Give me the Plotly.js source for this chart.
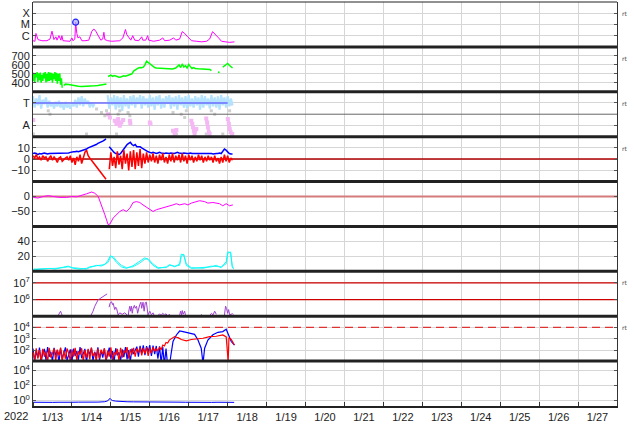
<!DOCTYPE html>
<html><head><meta charset="utf-8">
<script src="https://cdn.plot.ly/plotly-3.0.1.min.js"></script>
<style>html,body{margin:0;padding:0;background:#fff}#c{width:634px;height:424px}</style>
</head><body><div id="c"></div>
<script>
// time axis: hours since 2022-01-13 00:00
const dayLabels = ['1/13','1/14','1/15','1/16','1/17','1/18','1/19','1/20','1/21','1/22','1/23','1/24','1/25','1/26','1/27'];

// Panel 1: X-ray flux, log10(W/m^2)
const xrayH = [0,1.2,1.8,3.1,5.5,8.6,10.5,11.7,12.9,14.1,14.8,16,17.2,17.8,18.5,20.9,22.8,24,24.6,25.8,26.3,27,27.7,28.9,30.1,32,34.4,36.3,37.5,38.7,40.6,41.8,43,43.7,44.3,46.1,48.6,51,53.5,55.4,57,57.8,59,60.3,61.5,62.7,65.2,67,67.7,69.5,70.7,71.3,74.4,78.1,80,81.2,84.3,86.7,88,90.4,92,93.5,95.3,97.8,100.9,104,107,108.9,110.7,112.6,114.4,116.2,118.7,121.2,124.2];
const xrayLog = [-6.45,-6.5,-5.8,-6.35,-6.45,-6.45,-6.3,-5.6,-6.35,-6.1,-6.4,-6.0,-6.4,-6.0,-6.45,-6.45,-6.5,-6.2,-6.45,-6.3,-4.8,-5.8,-6.2,-6.1,-6.45,-6.45,-6.4,-5.6,-5.4,-5.6,-6.1,-6.4,-6.3,-5.7,-6.35,-6.45,-6.5,-6.5,-6.45,-6.2,-5.45,-5.9,-6.2,-6.4,-6.0,-6.4,-6.45,-6.1,-6.4,-6.4,-6.0,-6.4,-6.5,-6.4,-6.2,-6.45,-6.4,-6.2,-6.4,-6.3,-5.64,-5.8,-6.1,-6.45,-6.5,-6.55,-6.5,-6.3,-5.64,-5.9,-6.2,-6.5,-6.55,-6.6,-6.55];
const flareH = [26.3];
const flareLog = [-4.8];

// Panel 2: solar wind speed (km/s)
const speedNoisy = [420,510,400,500,460,520,410,505,430,515,400,490,420,510,450,520,405,500,415,520,420,515,430,510,400,500,440,520,420,510,390,500,420,505,380,450,345]; // every 0.5 h from 0
const speedRestH = [19,20,22,24,26,28,30,32,34,36,38,40,42,44,45.3,45.8,46.3,47,48,49,50,51,52,53,54,55,56,57,58,59,60,61,62,63,64,65,66,67,68,69,70,71,72,73,74,75,76,78,80,82,84,86,88,89,90,91,92,93,94,95,96,97,98,99,100,102,104,106,108,109,110,110.5,114,115,115.5,117,118,119,120,121,122,123];
const speedRest = [370,385,380,372,366,362,358,358,360,362,366,370,376,382,386,null,470,478,485,472,480,476,470,462,465,470,478,474,480,486,492,500,530,545,560,565,570,568,575,600,640,625,610,595,580,570,565,562,558,556,560,555,565,580,600,570,610,575,590,565,605,580,560,570,560,556,552,555,550,548,535,null,520,515,null,575,590,600,615,595,575,565];

// Panel 3: T / A levels
const tLevel = [3.6,2.6,3.4,2.8,3.7,2.5,3.3,2.9,3.5,2.6,3.2,2.7,3.0,2.5,3.1,2.7,3.2,2.6,3.0,2.4,3.1,2.6,2.9,2.5,3.0,2.7,3.3,2.6,3.5,2.8,3.6,2.7,3.4,2.9,3.2,2.6,
  3.0,2.7,2.9,null,null,2.6,null,null,3.2,null,
  3.7,2.5,3.5,2.8,3.7,2.4,3.6,2.6,3.5,2.3,3.7,2.7,3.4,2.5,3.6,2.8,3.7,2.6,3.5,2.9,3.7,2.5,3.6,2.8,3.4,2.6,3.7,2.7,3.5,2.4,3.6,2.8,3.7,2.5,3.4,2.6,3.6,2.9,3.7,2.5,3.5,2.7,3.6,2.4,3.7,2.8,3.5,2.6,3.6,2.5,3.7,2.7,3.4,2.6,3.6,2.8,3.5,2.4,3.7,2.6,3.6,2.8,3.4,2.5,3.7,2.7,3.5,2.6,3.6,2.4,3.7,2.8,3.5,2.6,3.6,2.7,3.4,2.8];
const tLineH = [0,120];
const tLineV = [3,3];
const grayH = [0.2,9.4,10.5,33,39.2,42.2,44.3,45.3,51.5,52.5,53.5,58.6,59.7,86.3,88.4,91.4,93.5,94.5,106.8,109.9,112,117,121.2,122.2];
const grayV = [0.24,2.31,2.0,0.24,2.46,2.16,1.87,2.31,0.24,2.0,2.31,2.16,1.87,2.16,0.24,2.0,1.7,2.31,0.24,2.31,2.0,0.24,2.31,2.9];
const pinkH = [0.2,null,46.3,47.4,null,50.4,51.5,52.5,53.5,54.5,55.6,null,59.7,60,null,72,72.4,null,86.3,87.3,88.4,null,97.6,98.2,98.6,99.2,99.6,100.7,null,106.8,107.4,107.8,108.4,108.9,null,120.1,120.7,121.2,121.8,122.8];
const pinkV = [1.48,null,2.0,1.7,null,1.42,1.13,1.57,0.98,1.27,1.48,null,1.42,1.2,null,1.27,1.13,null,0.53,0.24,0.6,null,1.42,1.13,0.83,0.53,0.24,0.68,null,1.63,1.27,0.83,0.39,0.24,null,1.57,1.13,0.68,0.39,0.24];

// Panel 4: IMF Bt and Bz (nT), hourly from 0
const bt = [5,5.5,5,4,5,4.5,5,5.5,5,4.5,5,5,5,5.5,5,5,5,5.5,5,5,5,
  5,5.5,6,6.5,6.5,6.5,7,6.5,7,7,7.5,8,9,10,10.5,11,12,12.5,13,14,14.5,15.5,16,17,18,
  null,
  11,9,8,6,5,5,4,5,7,9,12,13,14,15,13,12,13,11,11,11,10,9,8,7,6.5,6,
  5.5,6,5.5,5,5.5,6,5.5,5,5,5.5,5,5,5.5,5,5,5.5,6,5.5,5,5,5.5,5,5,5,5.5,5,5,5.5,5,5,5,5.5,5,5,5,5.5,5,5,4.5,5,5,5,5.5,5,
  7,9,8,6,5,4.5,4.5];
const bz = [3,1,4,0,2,-1,3,1,2,-2,1,3,-1,2,0,-3,1,2,-2,0,1,
  2,-1,3,-3,1,-5,2,-2,4,-4,1,6,8,3,
  1,-1,-3,-5,-7,-9,-11,-12,-14,-16,-18,
  null,
  -9,6,-6,2,-8,7,-5,3,-9,8,-4,5,-10,7,-7,8,-9,6,-6,9,-8,5,-4,6,
  -3,4,-2,5,-3,3,-4,4,-1,5,-3,2,-4,4,-2,5,-3,3,-1,4,-3,5,-2,3,-4,4,-1,3,-3,2,-2,4,-1,3,-3,2,-2,3,-1,2,
  -3,3,-2,1,-4,2,-3,4,-2,3,-3,1,-1];

// Panel 5: Dst (nT)
const dstH = [0.2,3,6.4,9.4,12.5,16.6,20.7,23.8,26.9,29.9,33,36.1,38.1,40.2,42.2,44.3,46.3,47.4,49.4,51.5,53.5,55.6,57.6,59.7,61.7,63.8,65.8,67.8,69.9,72,74,76.1,78.1,80.1,82.2,84.3,86.3,88.4,90.4,93.5,95.5,97.6,100.7,102.7,105.8,107.8,110.9,115,117,119.1,121.2,123.2];
const dst = [-3,-5,0,3,0,-3,-3,0,-1,3,9,15,11,0,-28,-61,-94,-92,-72,-61,-50,-44,-50,-39,-20,-17,-20,-28,-36,-44,-50,-44,-41,-39,-36,-33,-28,-24,-28,-24,-28,-22,-17,-14,-17,-22,-20,-24,-31,-24,-31,-28];

// Panel 6: cyan pair
const cyanH = [0.2,10.5,13.5,18.7,21.7,24.8,28.9,33,35,39.2,42.2,44.3,46.3,47.8,49.4,51.5,54.5,57.6,61.7,65.8,68.9,70.9,74,77.1,82.2,84.3,87.4,90.4,91.4,92.9,94.5,97.6,104.8,109.9,113,116,119.1,120.1,121.8,122.8,123.6];
const cyanA = [2,4,3,6,7,4,3,4,6,7.5,8.5,9,15,21,18,12,6,4,7.5,13,18,16,8,4,6,9,6,10,23,22,8,4,5,6,8,5,13,26,25,6,4];
const cyanB = [3,3,4,5,6,5,4,3,5,8,7,10,12,19,20,14,8,5,6,11,16,17,10,5,5,8,7,8,20,23,10,5,4,7,7,6,10,24,26,8,3];

// Panel 7: electron flux
const elecH = [14,16.2,17,17.6,18.7,null,28.5,28.9,29.5,null,35,36.1,37,38.1,39,40.2,41,42.2,43,44.3,45.7,null,46.9,47.5,48.4,49,49.4,50.4,51,51.5,52.5,53.5,55,56.5,58,58.6,59.2,59.7,60.2,60.7,61.2,61.7,62.5,63,63.8,64.5,65.8,66.5,67,67.8,68.5,69.2,69.9,70.5,70.9,72,73,74,75,null,77,78,79,80,81,82,83,84,85,null,90.4,91,91.5,92,92.5,93.5,94,null,103.5,103.9,null,109,110,111,112,113,null,118,118.7,119.3,120,120.6,121.2,122,123,123.6];
const elec = [6e4,1.3e5,2e5,1.4e5,8e4,null,8e4,1.1e5,8e4,null,8e4,1.2e5,2e5,4e5,6e5,1e6,1.1e6,1.3e6,1.5e6,1.8e6,2.2e6,null,3.5e5,6e5,7.5e5,5e5,6e5,2.5e5,3.5e5,3e5,1.2e5,1.6e5,1.3e5,1.6e5,1.2e5,9e4,2.5e5,4e5,2e5,4e5,1.5e5,3e5,4.5e5,3e5,4e5,1.5e5,5e5,7e5,3e5,7e5,2e5,6.5e5,7e5,2.5e5,1.2e5,2e5,1.2e5,1.6e5,9e4,null,1.1e5,1.4e5,1.1e5,1.5e5,1.2e5,1.4e5,1e5,1.3e5,9e4,null,1.2e5,2e5,1.2e5,2.2e5,1.3e5,2e5,1.1e5,null,1.1e5,1.3e5,null,1.1e5,1.5e5,1.2e5,2e5,1.3e5,null,1.1e5,4e5,3e5,1.5e5,2.5e5,1.2e5,1.3e5,1.4e5,1.3e5];

// Panel 8: proton flux (blue, red); hourly from 0 then tail points
const pBlue = [150,12,90,25,180,10,60,140,15,200,30,80,12,170,40,110,9,160,20,70,190,14,50,130,11,150,35,90,16,200,22,60,140,10,120,45,170,13,80,30,190,15,100,25,150,12,60,180,20,90,11,160,40,70,14,130,28,200,18,110,12,150,50,90,220,30,260,60,280,40,240,80,300,35,270,50,250,20,230,8,200,6,150,5,4];
const pBlueTailH = [85,86.3,88.4,90.4,92.5,94.5,96.6,99.6,101.7,103.7,104.8,105.8,107.8,110.9,114,117,119.1,120.7,122.2,124.2];
const pBlueTail = [40,600,2200,4800,4300,3700,3000,2500,820,160,8,160,820,2300,3700,4300,6800,1600,600,300];
const pRed = [80,15,160,20,110,12,140,30,90,10,170,25,60,150,14,120,40,180,11,100,20,150,60,13,130,30,170,15,90,45,160,12,110,25,140,18,180,35,70,12,150,22,120,50,160,14,100,30,190,16,80,40,140,12,170,25,110,60,200,20,130,45,170,30,150,70,180,40,160,55,190,35,170,60,200,90];
const pRedTailH = [76,77,78,79,80,81,82,83,84,86,87.3,88.4,89.4,91.4,94.5,97.6,100.7,104.8,108.9,113,117,119.1,119.9,120.3,120.8,122.2,124.2];
const pRedTail = [150,90,200,120,300,250,500,450,800,1300,1600,1400,1300,900,700,900,1000,1150,1600,1700,2200,1500,60,10,1300,900,300];

// Panel 9
const n9H = [0,4,8,12,16,20,24,28,32,36,40,44,46,47,47.5,48,49,51,54,58,62,66,70,74,78,82,86,90,94,98,102,106,110,114,118,122,124];
const n9 = [0.6,0.55,0.62,0.58,0.6,0.56,0.6,0.62,0.58,0.6,0.63,0.7,0.9,1.6,2.0,1.4,1.0,0.85,0.75,0.7,0.68,0.65,0.62,0.6,0.63,0.6,0.58,0.62,0.6,0.57,0.6,0.62,0.58,0.6,0.57,0.6,0.58];

// reference levels
const bzZero = [0], dstZero = [0], elecLevels = [1e6, 1e7], protonLevel = [1e4];

// ---- build ----
const hourly = (arr, start, step) => arr.map((_, i) => start + i * step);
const full = [0, 360];
const tr = [];
const L = (x, y, ax, color, width, extra) => Object.assign({x, y, yaxis: ax, xaxis: 'x', type: 'scatter', mode: 'lines', line: {color, width}, hoverinfo: 'skip', connectgaps: false}, extra || {});

// panel 1
tr.push(L(xrayH, xrayLog, 'y', '#ff00ff', 1));
tr.push({x: flareH, y: flareLog, yaxis: 'y', xaxis: 'x', mode: 'markers', marker: {symbol: 'circle', size: 6, color: 'rgba(170,170,255,0.7)', line: {color: '#2222ff', width: 1.2}}});
// panel 2
tr.push(L(hourly(speedNoisy, 0, 0.5), speedNoisy, 'y2', '#00ff00', 1.5));
tr.push(L(speedRestH, speedRest, 'y2', '#00ff00', 1.5));
// panel 3
tr.push({x: grayH, y: grayV, yaxis: 'y3', xaxis: 'x', mode: 'markers', marker: {symbol: 'square', size: 3, color: '#cfcfcf'}});
tr.push(L(hourly(tLevel, 0, 1), tLevel, 'y3', '#b4e2ff', 2.2));
tr.push(L(pinkH, pinkV, 'y3', '#f4b8f4', 3, {mode: 'lines+markers', marker: {size: 4, symbol: 'square', color: '#f4b8f4'}}));
tr.push(L(tLineH, tLineV, 'y3', '#6b6bff', 1.5));
// panel 4
tr.push(L(full, [bzZero[0], bzZero[0]], 'y4', '#b00000', 1.5));
tr.push(L(hourly(bt, 0, 1), bt, 'y4', '#0000ff', 1.5));
tr.push(L(hourly(bz, 0, 1), bz, 'y4', '#ff0000', 1.5));
// panel 5
tr.push(L(full, [dstZero[0], dstZero[0]], 'y5', '#d47c7c', 2));
tr.push(L(dstH, dst, 'y5', '#ff00ff', 1));
// panel 6
tr.push(L(cyanH, cyanB, 'y6', '#40f0f0', 1));
tr.push(L(cyanH, cyanA, 'y6', '#00ffff', 1));
// panel 7
elecLevels.forEach(v => tr.push(L(full, [v, v], 'y7', '#cc0000', 1.2)));
tr.push(L(elecH, elec, 'y7', '#a040d0', 1));
// panel 8
tr.push(L(full, [protonLevel[0], protonLevel[0]], 'y8', '#dd3333', 1.3, {line: {color: '#dd3333', width: 1.3, dash: '8px,5px'}}));
tr.push(L(hourly(pBlue, 0, 1).concat(pBlueTailH), pBlue.concat(pBlueTail), 'y8', '#0000ff', 1.2));
tr.push(L(hourly(pRed, 0, 1).concat(pRedTailH), pRed.concat(pRedTail), 'y8', '#ff0000', 1.2));
// panel 9
tr.push(L(n9H, n9, 'y9', '#0000ff', 1));

const tickfont = {family: 'Liberation Sans, Arial, sans-serif', size: 11, color: '#222'};
const dom = i => [1 - (i + 1) / 9, 1 - i / 9];
const yBase = i => ({domain: dom(i), anchor: 'x', showgrid: true, gridcolor: '#d6d6d6', gridwidth: 1, zeroline: false,
  showline: true, linecolor: '#333', linewidth: 1, mirror: 'ticks', ticks: 'inside', ticklen: 3, tickcolor: '#555',
  tickfont, fixedrange: true, tickmode: 'array'});

const sup = n => '10<sup>' + n + '</sup>';
const layout = {
  width: 634, height: 424, margin: {l: 33, r: 17, t: 2, b: 18}, paper_bgcolor: '#fff', plot_bgcolor: '#fff', showlegend: false,
  xaxis: {domain: [0, 1], range: [0, 360], anchor: 'y9', tickmode: 'array', tickvals: dayLabels.map((_, i) => 12 + 24 * i), ticktext: dayLabels,
    ticks: '', showgrid: false, zeroline: false, showline: true, linecolor: '#222', linewidth: 2, tickfont: {family: 'Liberation Sans, Arial, sans-serif', size: 11, color: '#222'},
    minor: {tickmode: 'linear', tick0: 0, dtick: 24, showgrid: true, gridcolor: '#d6d6d6', gridwidth: 1, ticks: 'inside', ticklen: 4, tickcolor: '#333'}, fixedrange: true},
  yaxis: Object.assign(yBase(0), {range: [-7, -3], tickvals: [-4, -5, -6], ticktext: ['X', 'M', 'C']}),
  yaxis2: Object.assign(yBase(1), {range: [300, 800], tickvals: [400, 500, 600, 700], ticktext: ['400', '500', '600', '700']}),
  yaxis3: Object.assign(yBase(2), {range: [0, 4], tickvals: [1, 3], ticktext: ['A', 'T']}),
  yaxis4: Object.assign(yBase(3), {range: [-20, 20], tickvals: [-10, 0, 10], ticktext: ['\u221210', '0', '10']}),
  yaxis5: Object.assign(yBase(4), {range: [-100, 50], tickvals: [-50, 0], ticktext: ['\u221250', '0']}),
  yaxis6: Object.assign(yBase(5), {range: [0, 60], tickvals: [20, 40], ticktext: ['20', '40']}),
  yaxis7: Object.assign(yBase(6), {type: 'log', range: [5, 7.7], tickvals: [1e6, 1e7], ticktext: [sup(6), sup(7)]}),
  yaxis8: Object.assign(yBase(7), {type: 'log', range: [1.1, 4.95], tickvals: [1e2, 1e3, 1e4], ticktext: [sup(2), sup(3), sup(4)]}),
  yaxis9: Object.assign(yBase(8), {type: 'log', range: [-0.72, 5.26], tickvals: [1, 1e2, 1e4], ticktext: [sup(0), sup(2), sup(4)]}),
  shapes: [],
  annotations: [
    {xref: 'paper', yref: 'paper', x: 0, y: 0, xanchor: 'right', yanchor: 'top', xshift: -3, yshift: -2, text: '2022', showarrow: false, font: {family: 'Liberation Sans, Arial, sans-serif', size: 11, color: '#222'}}
  ]
};
for (let k = 1; k <= 8; k++) {
  layout.shapes.push({type: 'line', xref: 'paper', yref: 'paper', x0: 0, x1: 1, y0: k / 9, y1: k / 9, line: {color: '#222', width: 3}});
}
layout.shapes.push({type: 'line', xref: 'paper', yref: 'paper', x0: 0, x1: 1, y0: 1, y1: 1, line: {color: '#222', width: 1}});
layout.shapes.push({type: 'line', xref: 'paper', yref: 'y3', x0: 0, x1: 1, y0: 2, y1: 2, line: {color: '#666', width: 1}});
[0, 1, 2, 3, 6, 7].forEach(i => layout.annotations.push({xref: 'paper', yref: 'paper', x: 1, y: 1 - i / 9, xanchor: 'left', yanchor: 'top', xshift: 3, yshift: -6,
  text: 'rt', showarrow: false, font: {family: 'DejaVu Sans, sans-serif', size: 6, color: '#444'}}));

Plotly.newPlot('c', tr, layout, {staticPlot: true, displayModeBar: false});
</script></body></html>
